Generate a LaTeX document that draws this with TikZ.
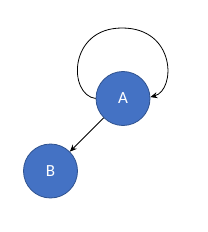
\documentclass[tikz,border=0pt]{standalone}
\usepackage{fontspec}
\setmainfont{Carlito}
\usetikzlibrary{arrows.meta}
\definecolor{nodefill}{HTML}{4472C4}
\definecolor{nodeline}{HTML}{2F528F}
\begin{document}
\begin{tikzpicture}[x=1pt,y=-1pt,
  vertex/.style={circle,fill=nodefill,draw=nodeline,line width=0.8pt,minimum size=54pt,inner sep=0pt,text=white,font=\fontsize{17}{20}\selectfont},
  link/.style={line width=0.8pt,-{Stealth[length=7pt,width=6pt]}}]
\useasboundingbox (0,0) rectangle (207,232);
\node[vertex] (A) at (123,98.5) {A};
\node[vertex] (B) at (50.5,171) {B};
\coordinate (T) at (122,28);
\draw[link] (A.180) .. controls (68,95) and (68,28) .. (T) .. controls (176,28) and (176,90) .. (A.3);
\draw[link] (A) -- (B);
\end{tikzpicture}
\end{document}
